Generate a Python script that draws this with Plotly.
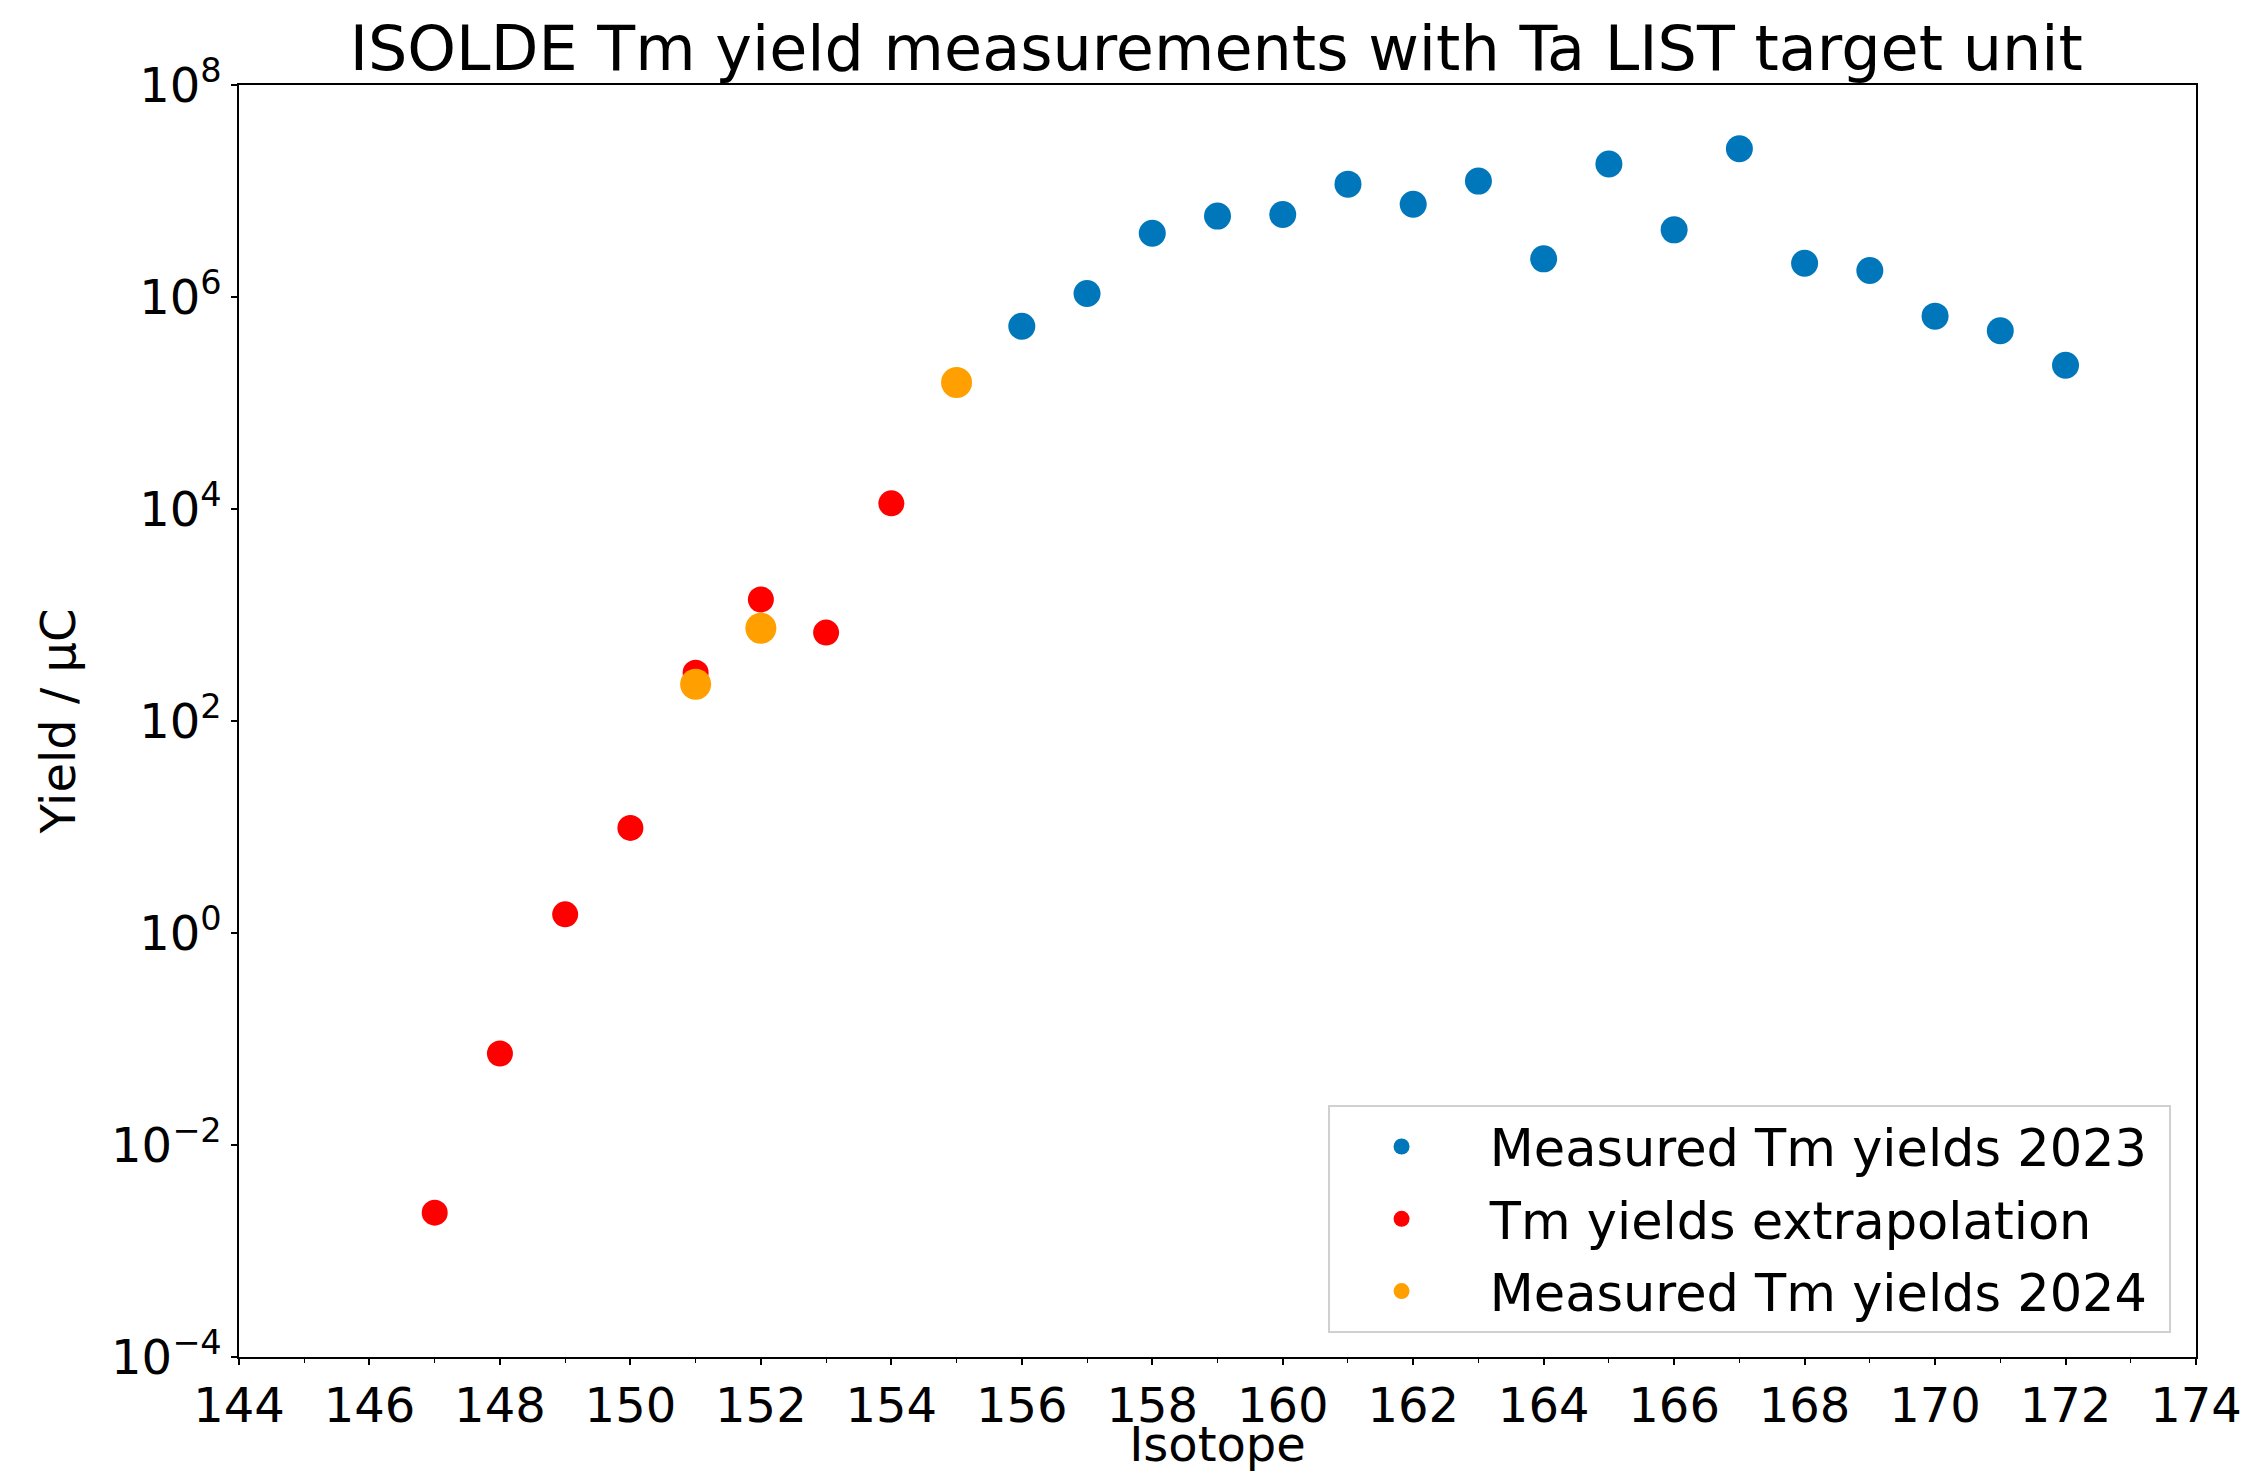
import plotly.graph_objects as go

# Data
iso_2023 = [156, 157, 158, 159, 160, 161, 162, 163, 164, 165, 166, 167, 168, 169, 170, 171, 172]
yield_2023 = [5.3e5, 1.08e6, 4.0e6, 5.8e6, 6.0e6, 1.16e7, 7.5e6, 1.24e7, 2.29e6, 1.8e7,
              4.3e6, 2.5e7, 2.08e6, 1.78e6, 6.6e5, 4.8e5, 2.27e5]

iso_extrap = [147, 148, 149, 150, 151, 152, 153, 154]
yield_extrap = [2.3e-3, 0.073, 1.5, 9.8, 285, 1400, 682, 1.13e4]

iso_2024 = [151, 152, 155]
yield_2024 = [222, 750, 1.56e5]

ytick_vals = [1e-4, 1e-2, 1e0, 1e2, 1e4, 1e6, 1e8]
ytick_text = ["10<sup>−4</sup>", "10<sup>−2</sup>", "10<sup>0</sup>", "10<sup>2</sup>",
              "10<sup>4</sup>", "10<sup>6</sup>", "10<sup>8</sup>"]

FONT = "DejaVu Sans"
PAD = "\u00a0"

fig = go.Figure()
fig.add_trace(go.Scatter(x=iso_2023, y=yield_2023, mode="markers",
                         name=PAD + "Measured Tm yields 2023" + PAD, legendgroup="a",
                         marker=dict(color="#0077bb", size=27, line=dict(width=0))))
fig.add_trace(go.Scatter(x=iso_extrap, y=yield_extrap, mode="markers",
                         name=PAD + "Tm yields extrapolation" + PAD, legendgroup="b",
                         marker=dict(color="#ff0000", size=26, line=dict(width=0))))
fig.add_trace(go.Scatter(x=iso_2024, y=yield_2024, mode="markers",
                         name=PAD + "Measured Tm yields 2024" + PAD, legendgroup="c",
                         marker=dict(color="#ffa000", size=31, line=dict(width=0))))

fig.update_layout(
    width=2254, height=1472,
    margin=dict(l=239, r=58, t=85, b=115, autoexpand=False),
    paper_bgcolor="white", plot_bgcolor="white",
    font=dict(family=FONT, size=48, color="black"),
    title=dict(text="ISOLDE Tm yield measurements with Ta LIST target unit",
               x=0.5396, xanchor="center", y=0.967, yanchor="middle",
               font=dict(family=FONT, size=62, color="black")),
    legend=dict(x=0.987, y=0.019, xanchor="right", yanchor="bottom",
                bgcolor="white", bordercolor="#d0d0d0", borderwidth=2,
                font=dict(family=FONT, size=51, color="black"),
                itemsizing="trace", itemwidth=134, tracegroupgap=3),
    showlegend=True,
)

fig.update_xaxes(
    range=[144, 174], tick0=144, dtick=2,
    showgrid=False, zeroline=False,
    showline=True, linecolor="black", linewidth=1.5, mirror=True,
    ticks="outside", ticklen=6, tickwidth=1.5, tickcolor="black",
    minor=dict(dtick=1, tick0=144, ticks="outside", ticklen=4, tickwidth=1, tickcolor="black"),
    tickfont=dict(family=FONT, size=48, color="black"),
    title=dict(text="Isotope", standoff=15, font=dict(family=FONT, size=48, color="black")),
)

fig.update_yaxes(
    type="log", range=[-4, 8],
    tickvals=ytick_vals, ticktext=ytick_text,
    showgrid=False, zeroline=False,
    showline=True, linecolor="black", linewidth=1.5, mirror=True,
    ticks="outside", ticklen=6, tickwidth=1.5, tickcolor="black",
    tickfont=dict(family=FONT, size=48, color="black"),
    title=dict(text="Yield / μC", standoff=20, font=dict(family=FONT, size=48, color="black")),
)

fig.write_html("out.html")
